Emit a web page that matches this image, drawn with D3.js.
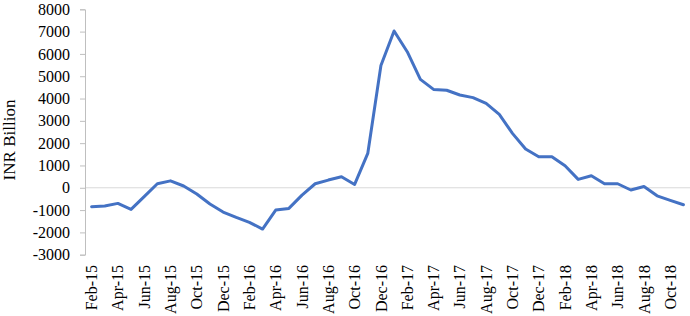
<!DOCTYPE html>
<html>
<head>
<meta charset="utf-8">
<script src="https://cdn.jsdelivr.net/npm/d3@7"></script>
<style>
  body { margin: 0; background: #fff; }
  svg { display: block; font-family: "Liberation Serif", "Times New Roman", serif; }
</style>
</head>
<body>
<svg id="chart" width="690" height="316"></svg>
<script>
// monthly series, Feb-15 .. Nov-18
let months = ["Feb-15","Mar-15","Apr-15","May-15","Jun-15","Jul-15","Aug-15","Sep-15","Oct-15","Nov-15","Dec-15",
  "Jan-16","Feb-16","Mar-16","Apr-16","May-16","Jun-16","Jul-16","Aug-16","Sep-16","Oct-16","Nov-16","Dec-16",
  "Jan-17","Feb-17","Mar-17","Apr-17","May-17","Jun-17","Jul-17","Aug-17","Sep-17","Oct-17","Nov-17","Dec-17",
  "Jan-18","Feb-18","Mar-18","Apr-18","May-18","Jun-18","Jul-18","Aug-18","Sep-18","Oct-18","Nov-18"];
let values = [-850, -820, -700, -970, -400, 180, 310, 80, -280, -730, -1090,
  -1330, -1550, -1850, -1000, -925, -330, 180, 345, 495, 150, 1540, 5480,
  7030, 6100, 4860, 4410, 4370, 4160, 4040, 3780, 3290, 2440, 1735, 1390,
  1390, 990, 375, 540, 180, 180, -100, 60, -360, -565, -760];
let xTickLabels = months.filter((m, i) => i % 2 === 0);
let yTicks = [-3000, -2000, -1000, 0, 1000, 2000, 3000, 4000, 5000, 6000, 7000, 8000];
let yLabel = "INR Billion";

let svg = d3.select("#chart");
let font = "'Liberation Serif', 'Times New Roman', serif";
let mLeft = 85, mRight = 690, mTop = 9.3, mBottom = 254.7;

let x = d3.scaleBand().domain(months).range([mLeft, mRight]).padding(0);
let y = d3.scaleLinear().domain([-3000, 8000]).range([mBottom, mTop]);
let cx = d => x(d) + x.bandwidth() / 2;

// zero line
svg.append("line")
  .attr("x1", mLeft).attr("x2", mRight)
  .attr("y1", y(0)).attr("y2", y(0))
  .attr("stroke", "#d9d9d9").attr("stroke-width", 1);

// y axis
let yAxis = svg.append("g")
  .attr("transform", "translate(" + mLeft + ",0)")
  .call(d3.axisLeft(y).tickValues(yTicks).tickSize(5).tickPadding(10).tickFormat(d => String(d)))
  .attr("font-family", font).attr("font-size", 16);
yAxis.select(".domain").attr("stroke", "#bfbfbf");
yAxis.selectAll(".tick line").attr("stroke", "#bfbfbf");
yAxis.selectAll("text").attr("fill", "#000");

// x axis labels (rotated)
let xAxis = svg.append("g")
  .attr("transform", "translate(0,265)")
  .call(d3.axisBottom(x).tickValues(xTickLabels).tickSize(0))
  .attr("font-family", font).attr("font-size", 16);
xAxis.select(".domain").remove();
xAxis.selectAll("text")
  .attr("x", 0).attr("y", 0).attr("dy", "0.35em")
  .attr("transform", "rotate(-90)")
  .style("text-anchor", "end")
  .attr("fill", "#000");

// y label
svg.append("text")
  .attr("transform", "translate(15,140) rotate(-90)")
  .attr("text-anchor", "middle")
  .attr("font-family", font)
  .attr("font-size", 17)
  .attr("fill", "#000")
  .text(yLabel);

// line
let line = d3.line()
  .x((d, i) => cx(months[i]))
  .y(d => y(d));

svg.append("path")
  .datum(values)
  .attr("d", line)
  .attr("fill", "none")
  .attr("stroke", "#4472C4")
  .attr("stroke-width", 3)
  .attr("stroke-linejoin", "round")
  .attr("stroke-linecap", "round");
</script>
</body>
</html>
